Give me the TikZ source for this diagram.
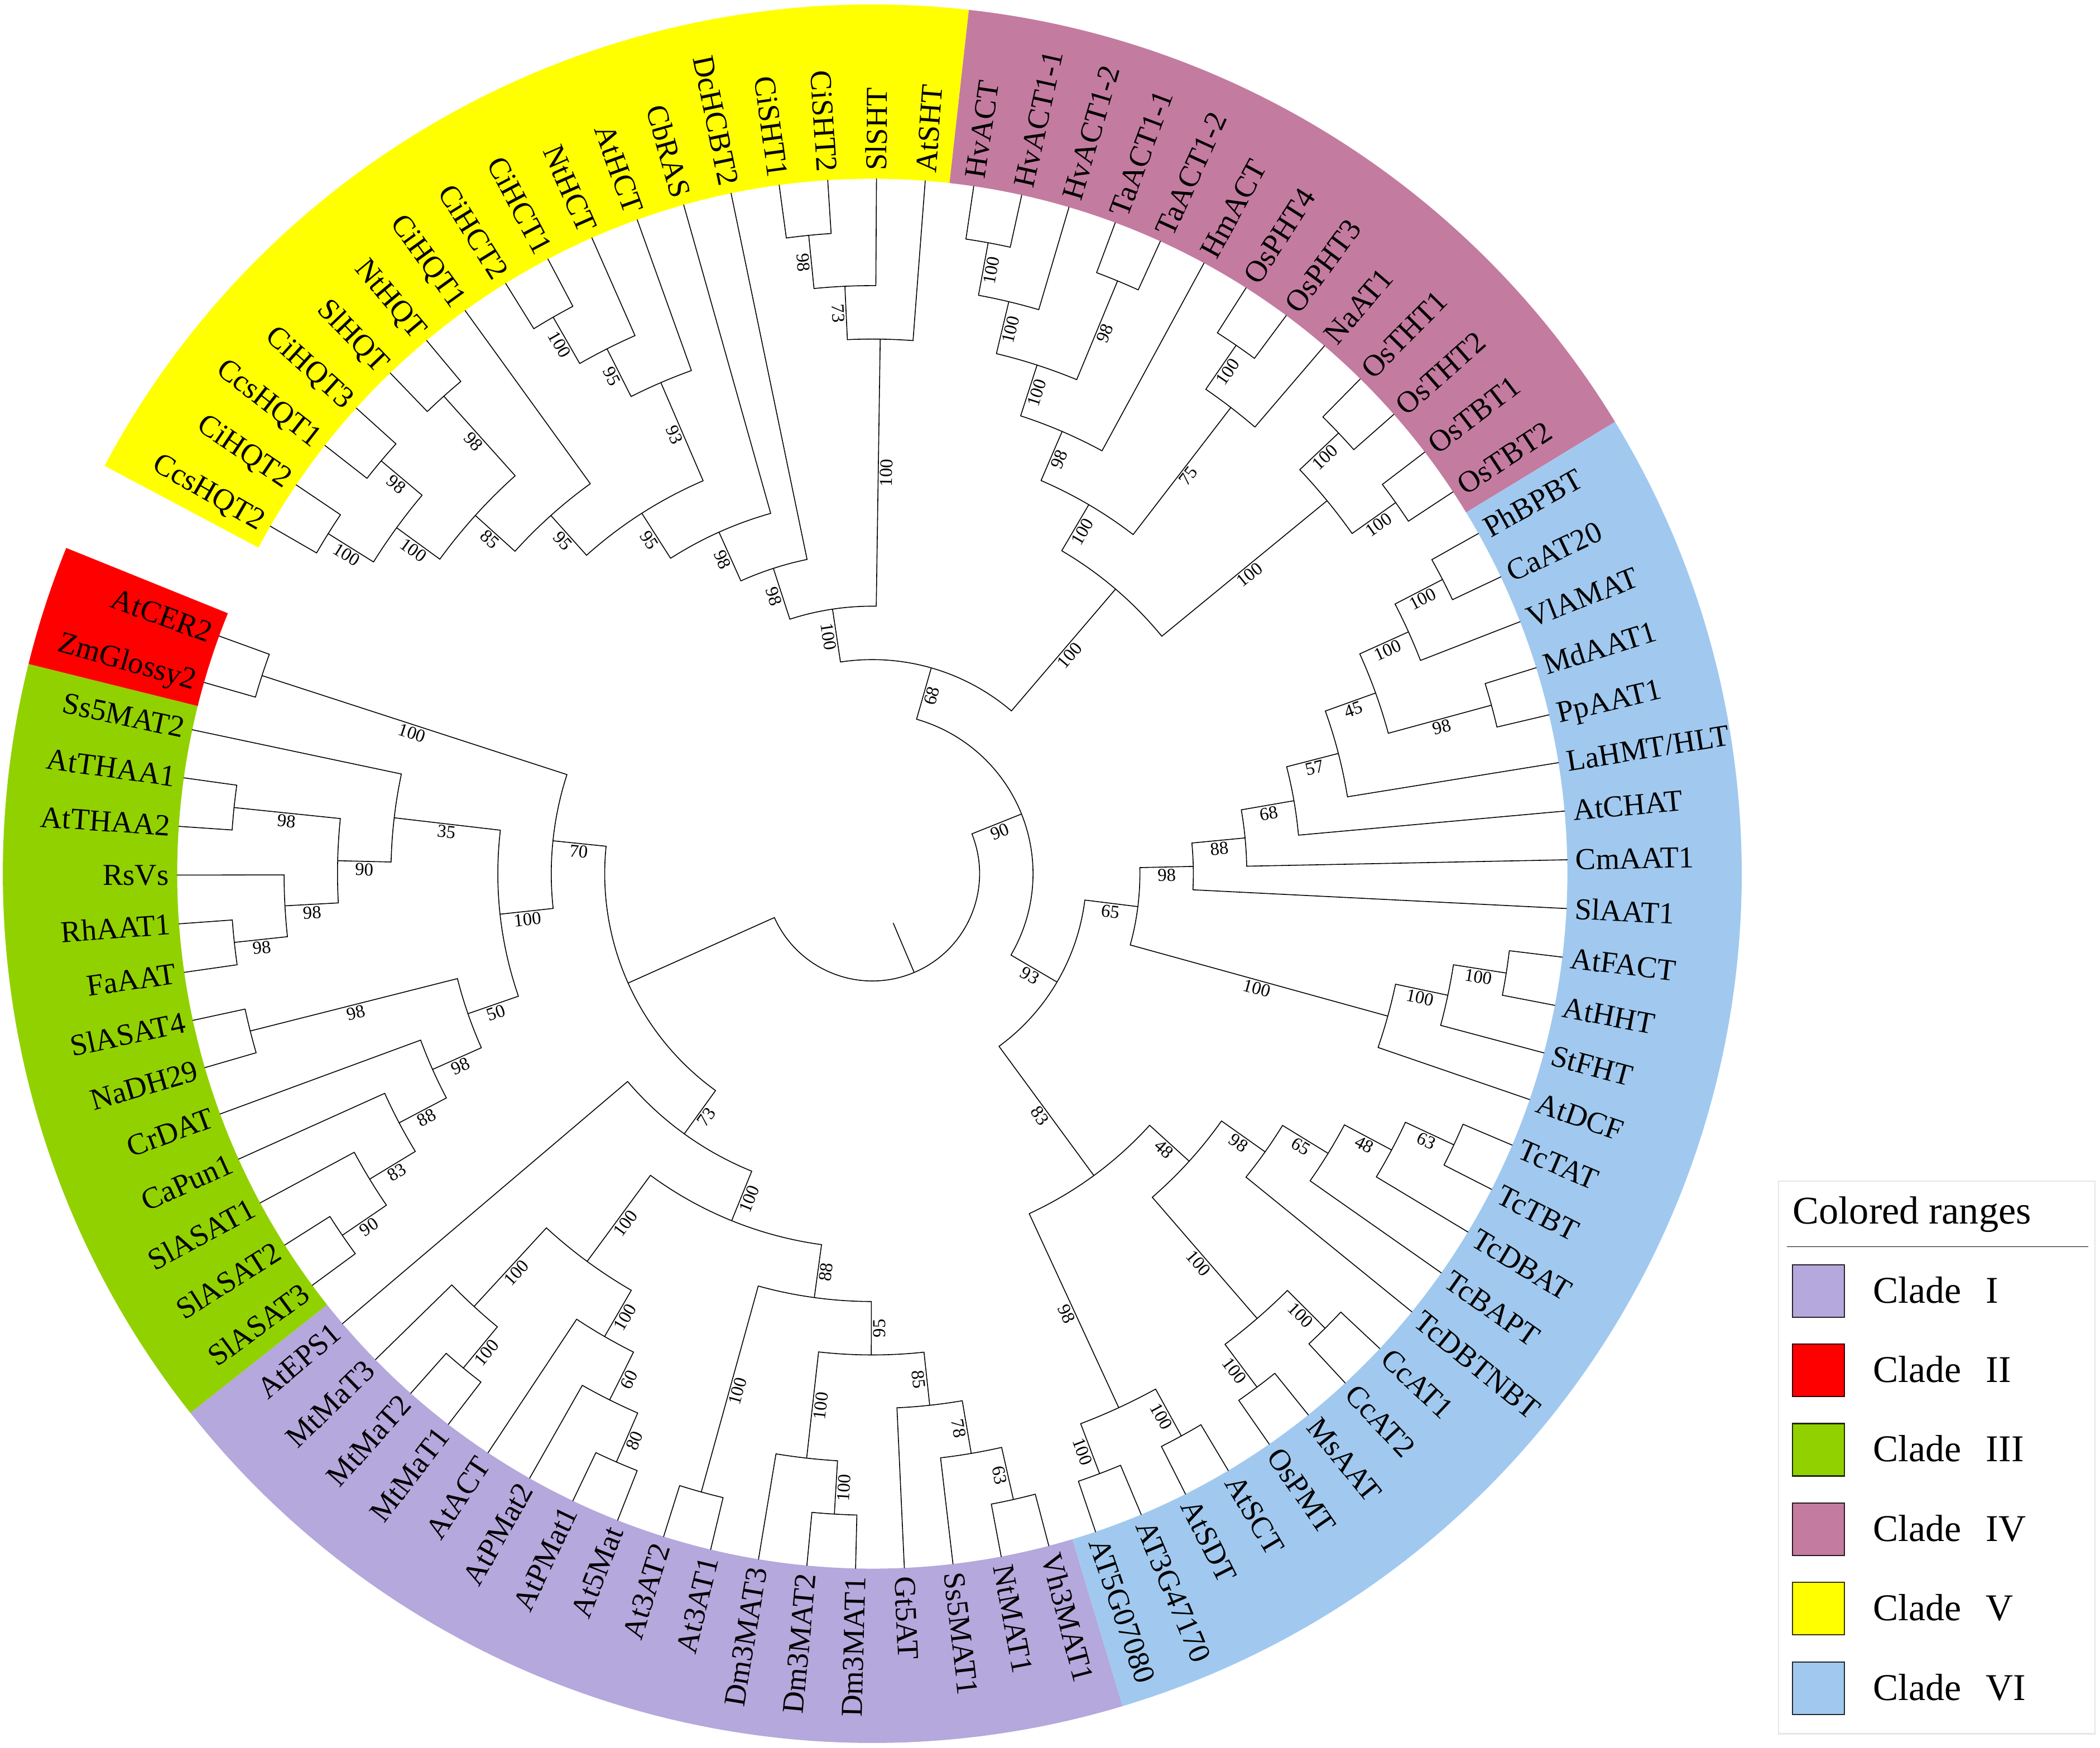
\documentclass[tikz,border=0pt]{standalone}
\usepackage{fontspec}
\setmainfont{Liberation Serif}
\definecolor{cI}{RGB}{180,168,220}
\definecolor{cII}{RGB}{255,0,0}
\definecolor{cIII}{RGB}{145,209,0}
\definecolor{cIV}{RGB}{196,123,160}
\definecolor{cV}{RGB}{255,255,0}
\definecolor{cVI}{RGB}{161,201,239}

\newcommand\SetAng[2]{\expandafter\xdef\csname tAng-#1\endcsname{#2}}
\newcommand\GetAng[1]{\csname tAng-#1\endcsname}

% leaf: index, parent height, text
\newcommand\Leaf[3]{%
  \pgfmathsetmacro\la{150-4.022988*#1}%
  \SetAng{L#1}{\la}%
  \pgfmathsetmacro\rp{12.456-0.9576*#2}%
  \draw[br] (\la:12.456) -- (\la:\rp);
  \pgfmathsetmacro\lc{cos(\la)}%
  \ifdim\lc pt<0pt
    \pgfmathsetmacro\lr{\la+180}%
    \node[leaf, rotate=\lr, anchor=east] (l#1) at (\la:12.60) {#3};
  \else
    \node[leaf, rotate=\la, anchor=west] (l#1) at (\la:12.60) {#3};
  \fi
}
% internal node: name, child1, child2, height, parent height, support
\newcommand\INode[6]{%
  \pgfmathsetmacro\aA{\GetAng{#2}}%
  \pgfmathsetmacro\aB{\GetAng{#3}}%
  \pgfmathsetmacro\aM{(\aA+\aB)/2}%
  \SetAng{#1}{\aM}%
  \pgfmathsetmacro\rr{12.456-0.9576*#4}%
  \pgfmathsetmacro\rp{12.456-0.9576*#5}%
  \pgfmathsetmacro\rl{(\rr+\rp)/2}%
  \draw[br] (\aA:\rr) arc[start angle=\aA, end angle=\aB, radius=\rr];
  \draw[br] (\aM:\rr) coordinate (#1) -- (\aM:\rp);
  \pgfmathsetmacro\lc{cos(\aM)}%
  \ifdim\lc pt<0pt \pgfmathsetmacro\lr{\aM+180}\else \pgfmathsetmacro\lr{\aM}\fi
  \if\relax\detokenize{#6}\relax\else
    \node[boot, rotate=\lr, anchor=north] (b#1) at (\aM:\rl) {#6};
  \fi
}
% colored range: colour, start angle, end angle
\newcommand\Band[3]{%
  \fill[#1] (#2:12.456) arc[start angle=#2, end angle=#3, radius=12.456]
    -- (#3:15.58) arc[start angle=#3, end angle=#2, radius=15.58] -- cycle;
}

\begin{document}
\begin{tikzpicture}[
  br/.style={line width=0.45pt, line cap=round},
  leaf/.style={inner sep=0pt, text height=10.3pt, text depth=0pt, font=\fontsize{15.5}{18}\selectfont},
  boot/.style={inner sep=0.8pt, font=\fontsize{9.3}{11}\selectfont},
  lgtext/.style={anchor=base west, inner sep=0pt, font=\fontsize{19.3}{23}\selectfont}
]
\useasboundingbox (-15.631,-15.67) rectangle (21.999,15.66);

% colored ranges
\Band{cV}{152.0115}{83.621}
\Band{cIV}{83.621}{31.322}
\Band{cVI}{31.322}{-73.276}
\Band{cI}{-73.276}{-141.667}
\Band{cIII}{-141.667}{-193.965}
\Band{cII}{-193.965}{-202.011}

% leaves
\Leaf{0}{1}{CcsHQT2}
\Leaf{1}{1}{CiHQT2}
\Leaf{2}{1}{CcsHQT1}
\Leaf{3}{1}{CiHQT3}
\Leaf{4}{1}{SlHQT}
\Leaf{5}{1}{NtHQT}
\Leaf{6}{4}{CiHQT1}
\Leaf{7}{1}{CiHCT2}
\Leaf{8}{1}{CiHCT1}
\Leaf{9}{2}{NtHCT}
\Leaf{10}{3}{AtHCT}
\Leaf{11}{6}{CbRAS}
\Leaf{12}{7}{DcHCBT2}
\Leaf{13}{1}{CiSHT1}
\Leaf{14}{1}{CiSHT2}
\Leaf{15}{2}{SlSHT}
\Leaf{16}{3}{AtSHT}
\Leaf{17}{1}{HvACT}
\Leaf{18}{1}{HvACT1-1}
\Leaf{19}{2}{HvACT1-2}
\Leaf{20}{1}{TaACT1-1}
\Leaf{21}{1}{TaACT1-2}
\Leaf{22}{4}{HmACT}
\Leaf{23}{1}{OsPHT4}
\Leaf{24}{1}{OsPHT3}
\Leaf{25}{2}{NaAT1}
\Leaf{26}{1}{OsTHT1}
\Leaf{27}{1}{OsTHT2}
\Leaf{28}{1}{OsTBT1}
\Leaf{29}{1}{OsTBT2}
\Leaf{30}{1}{PhBPBT}
\Leaf{31}{1}{CaAT20}
\Leaf{32}{2}{VlAMAT}
\Leaf{33}{1}{MdAAT1}
\Leaf{34}{1}{PpAAT1}
\Leaf{35}{4}{LaHMT/HLT}
\Leaf{36}{5}{AtCHAT}
\Leaf{37}{6}{CmAAT1}
\Leaf{38}{7}{SlAAT1}
\Leaf{39}{1}{AtFACT}
\Leaf{40}{1}{AtHHT}
\Leaf{41}{2}{StFHT}
\Leaf{42}{3}{AtDCF}
\Leaf{43}{1}{TcTAT}
\Leaf{44}{1}{TcTBT}
\Leaf{45}{2}{TcDBAT}
\Leaf{46}{3}{TcBAPT}
\Leaf{47}{4}{TcDBTNBT}
\Leaf{48}{1}{CcAT1}
\Leaf{49}{1}{CcAT2}
\Leaf{50}{1}{MsAAT}
\Leaf{51}{1}{OsPMT}
\Leaf{52}{1}{AtSCT}
\Leaf{53}{1}{AtSDT}
\Leaf{54}{1}{AT3G47170}
\Leaf{55}{1}{AT5G07080}
\Leaf{56}{1}{Vh3MAT1}
\Leaf{57}{1}{NtMAT1}
\Leaf{58}{2}{Ss5MAT1}
\Leaf{59}{3}{Gt5AT}
\Leaf{60}{1}{Dm3MAT1}
\Leaf{61}{1}{Dm3MAT2}
\Leaf{62}{2}{Dm3MAT3}
\Leaf{63}{1}{At3AT1}
\Leaf{64}{1}{At3AT2}
\Leaf{65}{1}{At5Mat}
\Leaf{66}{1}{AtPMat1}
\Leaf{67}{2}{AtPMat2}
\Leaf{68}{3}{AtACT}
\Leaf{69}{1}{MtMaT1}
\Leaf{70}{1}{MtMaT2}
\Leaf{71}{2}{MtMaT3}
\Leaf{72}{7}{AtEPS1}
\Leaf{73}{1}{SlASAT3}
\Leaf{74}{1}{SlASAT2}
\Leaf{75}{2}{SlASAT1}
\Leaf{76}{3}{CaPun1}
\Leaf{77}{4}{CrDAT}
\Leaf{78}{1}{NaDH29}
\Leaf{79}{1}{SlASAT4}
\Leaf{80}{1}{FaAAT}
\Leaf{81}{1}{RhAAT1}
\Leaf{82}{2}{RsVs}
\Leaf{83}{1}{AtTHAA2}
\Leaf{84}{1}{AtTHAA1}
\Leaf{85}{4}{Ss5MAT2}
\Leaf{86}{1}{ZmGlossy2}
\Leaf{87}{1}{AtCER2}

% Clade V
\INode{Ya}{L0}{L1}{1}{2}{100}
\INode{Yb}{L2}{L3}{1}{2}{98}
\INode{X2}{Ya}{Yb}{2}{3}{100}
\INode{Yc}{L4}{L5}{1}{3}{98}
\INode{X3}{X2}{Yc}{3}{4}{85}
\INode{X4}{X3}{L6}{4}{5}{95}
\INode{Yd}{L7}{L8}{1}{2}{100}
\INode{Ye}{Yd}{L9}{2}{3}{95}
\INode{Yf}{Ye}{L10}{3}{5}{93}
\INode{X5}{X4}{Yf}{5}{6}{95}
\INode{X6}{X5}{L11}{6}{7}{98}
\INode{X7}{X6}{L12}{7}{8}{98}
\INode{S1}{L13}{L14}{1}{2}{98}
\INode{S2}{S1}{L15}{2}{3}{73}
\INode{S3}{S2}{L16}{3}{8}{100}
\INode{X8}{X7}{S3}{8}{9}{100}
% Clade IV
\INode{P1}{L17}{L18}{1}{2}{100}
\INode{P2}{P1}{L19}{2}{3}{100}
\INode{Pt}{L20}{L21}{1}{3}{98}
\INode{P3}{P2}{Pt}{3}{4}{100}
\INode{P4}{P3}{L22}{4}{5}{98}
\INode{Po}{L23}{L24}{1}{2}{100}
\INode{Pn}{Po}{L25}{2}{5}{75}
\INode{P5}{P4}{Pn}{5}{6}{100}
\INode{Ph}{L26}{L27}{1}{2}{100}
\INode{Pb}{L28}{L29}{1}{2}{100}
\INode{Pg}{Ph}{Pb}{2}{6}{100}
\INode{P6}{P5}{Pg}{6}{9}{100}
\INode{N68}{X8}{P6}{9}{10}{68}
% Clade VI
\INode{B1}{L30}{L31}{1}{2}{100}
\INode{B2}{B1}{L32}{2}{3}{100}
\INode{Bm}{L33}{L34}{1}{3}{98}
\INode{B3}{B2}{Bm}{3}{4}{45}
\INode{B4}{B3}{L35}{4}{5}{57}
\INode{B5}{B4}{L36}{5}{6}{68}
\INode{B6}{B5}{L37}{6}{7}{88}
\INode{B7}{B6}{L38}{7}{8}{98}
\INode{F1}{L39}{L40}{1}{2}{100}
\INode{F2}{F1}{L41}{2}{3}{100}
\INode{F3}{F2}{L42}{3}{8}{100}
\INode{B8}{B7}{F3}{8}{9}{65}
\INode{T1}{L43}{L44}{1}{2}{63}
\INode{T2}{T1}{L45}{2}{3}{48}
\INode{T3}{T2}{L46}{3}{4}{65}
\INode{T4}{T3}{L47}{4}{5}{98}
\INode{C1}{L48}{L49}{1}{2}{100}
\INode{C2}{L50}{L51}{1}{2}{100}
\INode{C3}{C1}{C2}{2}{5}{100}
\INode{TT}{T4}{C3}{5}{6}{48}
\INode{G1}{L52}{L53}{1}{2}{100}
\INode{G2}{L54}{L55}{1}{2}{100}
\INode{GG}{G1}{G2}{2}{6}{98}
\INode{TG}{TT}{GG}{6}{9}{83}
\INode{N93}{B8}{TG}{9}{10}{93}
\INode{N90}{N68}{N93}{10}{11}{90}
% Clade I
\INode{Mm}{L70}{L69}{1}{2}{100}
\INode{Mt}{L71}{Mm}{2}{4}{100}
\INode{Ap}{L66}{L65}{1}{2}{80}
\INode{Zp}{L67}{Ap}{2}{3}{60}
\INode{Ac}{L68}{Zp}{3}{4}{100}
\INode{H4}{Mt}{Ac}{4}{6}{100}
\INode{A3}{L64}{L63}{1}{5}{100}
\INode{Dm}{L61}{L60}{1}{2}{100}
\INode{D2}{L62}{Dm}{2}{4}{100}
\INode{Nv}{L57}{L56}{1}{2}{63}
\INode{Sv}{L58}{Nv}{2}{3}{78}
\INode{G5}{L59}{Sv}{3}{4}{85}
\INode{N95}{D2}{G5}{4}{5}{95}
\INode{N88}{A3}{N95}{5}{6}{88}
\INode{H6}{H4}{N88}{6}{7}{100}
\INode{N73}{L72}{H6}{7}{8}{73}
% Clades II and III
\INode{Th}{L84}{L83}{1}{3}{98}
\INode{Rf}{L81}{L80}{1}{2}{98}
\INode{Rs}{L82}{Rf}{2}{3}{98}
\INode{N90g}{Th}{Rs}{3}{4}{90}
\INode{N35}{L85}{N90g}{4}{6}{35}
\INode{Sn}{L79}{L78}{1}{5}{98}
\INode{Sa}{L74}{L73}{1}{2}{90}
\INode{S83}{L75}{Sa}{2}{3}{83}
\INode{S88}{L76}{S83}{3}{4}{88}
\INode{Y98}{L77}{S88}{4}{5}{98}
\INode{N50}{Sn}{Y98}{5}{6}{50}
\INode{N100g}{N35}{N50}{6}{7}{100}
\INode{Cl2}{L87}{L86}{1}{7}{100}
\INode{N70}{Cl2}{N100g}{7}{8}{70}
\INode{Nh8}{N70}{N73}{8}{11}{}
\INode{Root}{N90}{Nh8}{11}{12}{}

% legend
\draw[black!10, line width=0.6pt] (16.239,-5.51) rectangle (21.912,-15.415);
\node[lgtext, font=\fontsize{20}{24}\selectfont] (lgtitle) at (16.485,-6.28) {Colored ranges};
\draw[line width=0.5pt] (16.391,-6.685) coordinate (lgA) -- (21.787,-6.685) coordinate (lgB);
\foreach \k/\c/\t in {0/cI/I,1/cII/II,2/cIII/III,3/cIV/IV,4/cV/V,5/cVI/VI} {
  \pgfmathsetmacro\yt{-7.007-1.424*\k}
  \pgfmathsetmacro\yb{\yt-0.94}
  \pgfmathsetmacro\yl{-7.692-1.424*\k}
  \filldraw[fill=\c, draw=black!80!\c, line width=0.6pt] (16.485,\yt) rectangle (17.423,\yb);
  \node[lgtext] (lg\k) at (17.928,\yl) {Clade\hspace{0.65em}\t};
}
\end{tikzpicture}
\end{document}
